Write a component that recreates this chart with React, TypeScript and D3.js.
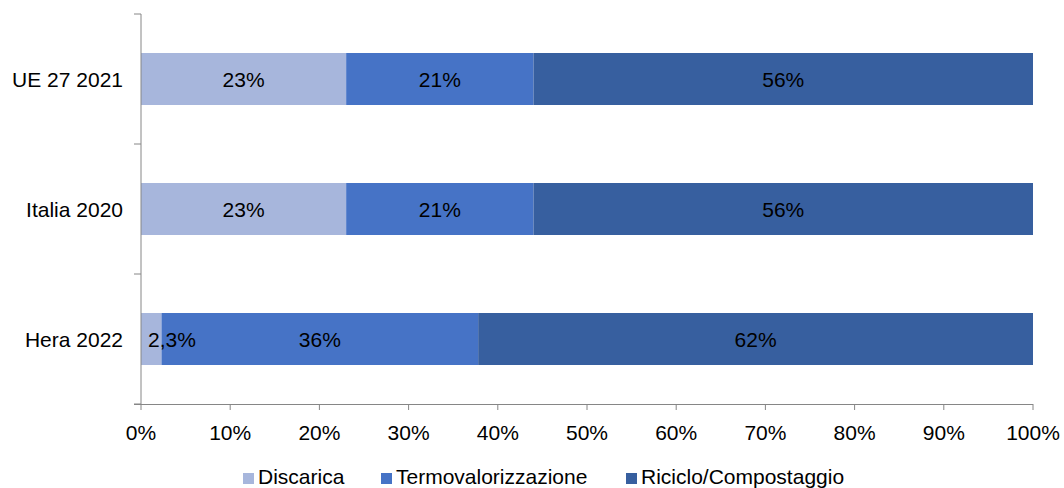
import React from "react";
import * as d3 from "d3";

const categories = ["UE 27 2021", "Italia 2020", "Hera 2022"];
const seriesNames = ["Discarica", "Termovalorizzazione", "Riciclo/Compostaggio"];
const discarica = [23, 23, 2.3];
const termovalorizzazione = [21, 21, 35.5];
const riciclo = [56, 56, 62.2];
const discaricaLabels = ["23%", "23%", "2,3%"];
const termoLabels = ["21%", "21%", "36%"];
const ricicloLabels = ["56%", "56%", "62%"];
const xTicks = [0, 10, 20, 30, 40, 50, 60, 70, 80, 90, 100];
const colors = ["#A7B6DC", "#4673C6", "#375F9F"];

export default function App() {
  const width = 1064;
  const height = 488;
  const left = 141;
  const right = 1033;
  const top = 14;
  const bottom = 404;
  const x = d3.scaleLinear().domain([0, 100]).range([left, right]);
  const y = d3.scaleBand().domain(categories).range([top, bottom]).paddingInner(0.6).paddingOuter(0.3);
  const bandEdges = d3.range(categories.length + 1).map((i) => top + (i * (bottom - top)) / categories.length);
  const seriesVals = [discarica, termovalorizzazione, riciclo];
  const seriesLabels = [discaricaLabels, termoLabels, ricicloLabels];
  const font = "'Liberation Sans', Arial, sans-serif";
  const fs = 21;
  const legendX = [243, 381, 626];

  const segs = categories.flatMap((c, ci) => {
    let acc = 0;
    return seriesVals.map((vals, si) => {
      const x0 = x(acc);
      acc += vals[ci];
      const x1 = x(acc);
      return { c, ci, si, x0, x1, v: vals[ci], label: seriesLabels[si][ci] };
    });
  });

  return (
    <svg width={width} height={height} style={{ position: "absolute", left: 0, top: 0 }} fontFamily={font}>
      {segs.map((s) => (
        <rect key={`r${s.ci}-${s.si}`} x={s.x0} y={y(s.c)} width={s.x1 - s.x0} height={y.bandwidth()} fill={colors[s.si]} />
      ))}
      {segs.map((s) => {
        const small = s.v < 5;
        return (
          <text
            key={`t${s.ci}-${s.si}`}
            x={small ? s.x0 + 7 : (s.x0 + s.x1) / 2}
            y={y(s.c)! + y.bandwidth() / 2}
            dy="0.36em"
            textAnchor={small ? "start" : "middle"}
            fontSize={fs}
            fill="#000"
          >
            {s.label}
          </text>
        );
      })}
      {categories.map((c) => (
        <text key={c} x={123} y={y(c)! + y.bandwidth() / 2} dy="0.36em" textAnchor="end" fontSize={fs} fill="#000">
          {c}
        </text>
      ))}
      <line x1={left} x2={left} y1={top} y2={bottom} stroke="#868686" strokeWidth={1} />
      {bandEdges.map((b, i) => (
        <line key={i} x1={left - 7} x2={left} y1={b} y2={b} stroke="#868686" strokeWidth={1} />
      ))}
      <line x1={left - 7} x2={right} y1={bottom + 0.5} y2={bottom + 0.5} stroke="#868686" strokeWidth={1} />
      {xTicks.map((t) => (
        <g key={t}>
          <line x1={x(t)} x2={x(t)} y1={bottom} y2={bottom + 6} stroke="#868686" strokeWidth={1} />
          <text x={x(t)} y={432} dy="0.36em" textAnchor="middle" fontSize={fs} fill="#000">
            {t}%
          </text>
        </g>
      ))}
      {seriesNames.map((n, i) => (
        <g key={n}>
          <rect x={legendX[i]} y={473} width={11} height={11} fill={colors[i]} />
          <text x={legendX[i] + 15} y={484} fontSize={fs} fill="#000">
            {n}
          </text>
        </g>
      ))}
    </svg>
  );
}
